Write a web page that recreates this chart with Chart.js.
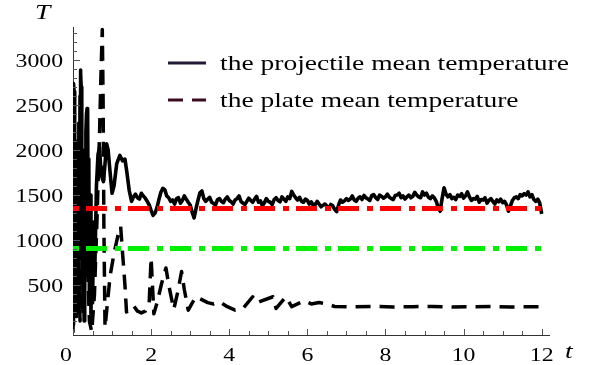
<!DOCTYPE html>
<html>
<head>
<meta charset="utf-8">
<script src="https://cdn.jsdelivr.net/npm/chart.js@4.4.1/dist/chart.umd.min.js"></script>
<style>
  html, body { margin: 0; padding: 0; background: #fff; }
  #wrap { width: 590px; height: 365px; }
</style>
</head>
<body>
<div id="wrap"><canvas id="tempChart" width="590" height="365"></canvas></div>
<script>
// projectile mean temperature (solid curve), impact phase up to t = 1.44
const projTime = [0, 0.008, 0.018, 0.028, 0.038, 0.048, 0.058, 0.07, 0.082, 0.095,
  0.108, 0.12, 0.135, 0.15, 0.165, 0.18, 0.19, 0.2, 0.21, 0.225,
  0.24, 0.255, 0.27, 0.285, 0.3, 0.315, 0.33, 0.345, 0.36, 0.375,
  0.39, 0.405, 0.42, 0.44, 0.46, 0.48, 0.5, 0.53, 0.56, 0.6,
  0.64, 0.68, 0.71, 0.74, 0.78, 0.82, 0.86, 0.9, 0.95, 1.0,
  1.05, 1.12, 1.2, 1.27, 1.33, 1.38, 1.44];
const projTemp = [60, 2700, 2740, 2650, 1200, 2200, 300, 2000, 150, 1900,
  400, 2100, 200, 2300, 1000, 2600, 2890, 2850, 2700, 900,
  2000, 200, 1800, 100, 1900, 600, 2200, 2400, 2460, 2400,
  1100, 1900, 300, 1500, 150, 1200, 300, 1200, 700, 1600,
  1950, 2030, 1800, 1700, 1650, 1850, 2070, 2000, 1750, 1520,
  1600, 1850, 1940, 1880, 1900, 1750, 1550];

// projectile mean temperature after t = 1.5, sampled every 0.05
const projTailStart = 1.5;
const projTailStep = 0.05;
const projTailTemp = [
  1430, 1480, 1510, 1470, 1455, 1520, 1490, 1465, 1430, 1390,
  1330, 1275, 1300, 1360, 1450, 1530, 1575, 1560, 1490, 1470,
  1430, 1445, 1400, 1460, 1470, 1410, 1440, 1490, 1455, 1420,
  1390, 1310, 1245, 1350, 1440, 1525, 1545, 1460, 1430, 1455,
  1475, 1420, 1405, 1390, 1450, 1460, 1430, 1415, 1455, 1480,
  1440, 1425, 1400, 1445, 1460, 1490, 1430, 1410, 1395, 1430,
  1465, 1440, 1420, 1455, 1485, 1420, 1435, 1380, 1415, 1460,
  1430, 1420, 1395, 1450, 1470, 1440, 1425, 1480, 1455, 1430,
  1480, 1460, 1540, 1500, 1470, 1445, 1475, 1430, 1420, 1455,
  1440, 1400, 1425, 1385, 1395, 1430, 1400, 1370, 1385, 1400,
  1375, 1355, 1395, 1380, 1340, 1315, 1390, 1445, 1420, 1435,
  1460, 1440, 1455, 1490, 1445, 1430, 1465, 1480, 1450, 1495,
  1470, 1455, 1440, 1495, 1505, 1470, 1450, 1500, 1485, 1465,
  1480, 1510, 1475, 1460, 1450, 1495, 1500, 1520, 1470, 1490,
  1455, 1480, 1500, 1470, 1485, 1530, 1500, 1480, 1470, 1535,
  1500, 1520, 1475, 1460, 1490, 1470, 1430, 1360, 1320, 1460,
  1580, 1510, 1480, 1505, 1460, 1475, 1450, 1500, 1485, 1515,
  1465, 1490, 1535, 1480, 1440, 1460, 1455, 1485, 1420, 1450,
  1445, 1470, 1410, 1440, 1460, 1430, 1400, 1445, 1425, 1455,
  1415, 1430, 1390, 1320, 1380, 1440, 1470, 1480, 1460, 1505,
  1490, 1515, 1500, 1535, 1480, 1505, 1450, 1430, 1455, 1410,
  1290];

// plate mean temperature (dashed curve)
const plateTime = [0, 0.04, 0.08, 0.13, 0.18, 0.23, 0.3, 0.36, 0.42, 0.48, 0.55, 0.62, 0.68, 0.72, 0.75,
  0.77, 0.79, 0.82, 0.87, 0.95, 1.05, 1.15, 1.22, 1.27, 1.33, 1.37, 1.45, 1.55, 1.65, 1.75, 1.85, 1.95,
  2.0, 2.07, 2.15, 2.27, 2.38, 2.46, 2.58, 2.68, 2.78, 2.85, 2.95, 3.05, 3.15, 3.45, 3.6, 3.75, 3.95,
  4.15, 4.35, 4.6, 4.7, 4.78, 5.12, 5.2, 5.45, 5.6, 5.92, 6.1, 6.3, 6.5, 6.7, 7.2, 7.7, 8.2, 8.7, 9.2,
  9.7, 10.2, 10.7, 11.2, 11.7, 12.0];
const plateTemp = [-30, 1500, 300, 1300, 100, 1100, 600, 900, 100, -20, 400, 1300, 2200, 2900, 3340,
  2600, 1200, 30, 250, 600, 850, 1050, 1150, 850, 500, 200, 230, 270, 210, 190, 210, 300,
  800, 180, 300, 520, 690, 480, 230, 420, 650, 450, 220, 300, 370, 305, 290, 315, 260,
  222, 240, 370, 300, 315, 370, 240, 370, 260, 325, 290, 305, 290, 262, 258, 263, 257, 260, 262,
  256, 259, 261, 257, 258, 260];

// horizontal reference levels
const refTime = [0, 12.05];
const refRed = [1350, 1350];
const refGreen = [905, 905];

const xTicks = [0, 2, 4, 6, 8, 10, 12];
const yTicks = [500, 1000, 1500, 2000, 2500, 3000];
const seriesLabels = ["the projectile mean temperature", "the plate mean temperature"];

const WIDE = 1.25; // horizontal stretch for all text
const SERIF = '"Liberation Serif", "DejaVu Serif", serif';

const toPoints = (ts, vs) => ts.map((t, i) => ({ x: t, y: vs[i] }));
const projPoints = toPoints(projTime, projTemp).concat(
  projTailTemp.map((v, i) => ({ x: +(projTailStart + i * projTailStep).toFixed(2), y: v }))
);

function wideText(ctx, text, x, y, align) {
  const w = ctx.measureText(text).width * WIDE;
  let left = x;
  if (align === "right") left = x - w;
  else if (align === "center") left = x - w / 2;
  ctx.save();
  ctx.translate(left, y);
  ctx.scale(WIDE, 1);
  ctx.textAlign = "left";
  ctx.textBaseline = "alphabetic";
  ctx.fillText(text, 0, 0);
  ctx.restore();
}

// ticks pointing inward, tick labels, axis names and the legend box
const axisDecor = {
  id: "axisDecor",
  afterDraw(chart) {
    const { ctx, chartArea } = chart;
    const xs = chart.scales.x;
    const ys = chart.scales.y;
    const left = chartArea.left;
    const bottom = chartArea.bottom;

    ctx.save();
    ctx.strokeStyle = "#555";
    ctx.lineWidth = 1;
    ctx.beginPath();
    for (let v = 0; v <= 12; v += 0.5) {
      const px = Math.round(xs.getPixelForValue(v)) + 0.5;
      const len = v % 2 === 0 ? 6 : 4;
      ctx.moveTo(px, bottom);
      ctx.lineTo(px, bottom - len);
    }
    for (let v = 100; v <= 3300; v += 100) {
      const py = Math.round(ys.getPixelForValue(v)) + 0.5;
      const len = v % 500 === 0 ? 7 : 4;
      ctx.moveTo(left, py);
      ctx.lineTo(left + len, py);
    }
    ctx.stroke();

    ctx.fillStyle = "#000";
    ctx.font = "19px " + SERIF;
    yTicks.forEach((v) => {
      wideText(ctx, String(v), left - 10, ys.getPixelForValue(v) + 6.5, "right");
    });
    xTicks.forEach((v) => {
      // the origin label sits a little left so it clears the vertical axis
      const shift = v === 0 ? -7 : 0;
      wideText(ctx, String(v), xs.getPixelForValue(v) + shift, bottom + 26, "center");
    });

    ctx.font = "italic 22px " + SERIF;
    wideText(ctx, "T", 35, 19, "left");
    wideText(ctx, "t", 565, 358, "left");

    // legend
    ctx.font = "22px " + SERIF;
    const rows = [
      { y: 63, color: "#231a36", dash: [] },
      { y: 100, color: "#3b0d1a", dash: [15, 9] },
    ];
    rows.forEach((row, i) => {
      ctx.strokeStyle = row.color;
      ctx.lineWidth = 3;
      ctx.setLineDash(row.dash);
      ctx.beginPath();
      ctx.moveTo(168, row.y);
      ctx.lineTo(206, row.y);
      ctx.stroke();
      ctx.setLineDash([]);
      wideText(ctx, chart.data.datasets[i].label, 220, row.y + 7, "left");
    });
    ctx.restore();
  },
};

new Chart(document.getElementById("tempChart"), {
  type: "line",
  data: {
    datasets: [
      {
        label: seriesLabels[0],
        data: projPoints,
        borderColor: "#000",
        borderWidth: 3.6,
        borderJoinStyle: "round",
        order: 2,
      },
      {
        label: seriesLabels[1],
        data: toPoints(plateTime, plateTemp),
        borderColor: "#000",
        borderWidth: 3.5,
        borderDash: [15, 9],
        borderJoinStyle: "round",
        order: 1,
      },
      {
        label: "red level",
        data: toPoints(refTime, refRed),
        borderColor: "#ff0000",
        borderWidth: 5,
        borderDash: [6, 7, 21, 8],
        order: 0,
      },
      {
        label: "green level",
        data: toPoints(refTime, refGreen),
        borderColor: "#00ee00",
        borderWidth: 5,
        borderDash: [6, 7, 21, 8],
        order: 0,
      },
    ],
  },
  options: {
    responsive: false,
    animation: false,
    events: [],
    elements: { point: { radius: 0 }, line: { tension: 0, fill: false } },
    layout: { padding: { top: 27, right: 40.5, bottom: 0, left: 0 } },
    plugins: { legend: { display: false }, tooltip: { enabled: false } },
    scales: {
      x: {
        type: "linear",
        min: 0,
        max: 12.2,
        grid: { display: false, drawTicks: false },
        border: { display: true, color: "#333", width: 1 },
        ticks: { display: false },
        afterFit: (scale) => { scale.height = 30; },
      },
      y: {
        type: "linear",
        min: -55,
        max: 3367,
        grid: { display: false, drawTicks: false },
        border: { display: true, color: "#333", width: 1 },
        ticks: { display: false },
        afterFit: (scale) => { scale.width = 73; },
      },
    },
  },
  plugins: [axisDecor],
});
</script>
</body>
</html>
